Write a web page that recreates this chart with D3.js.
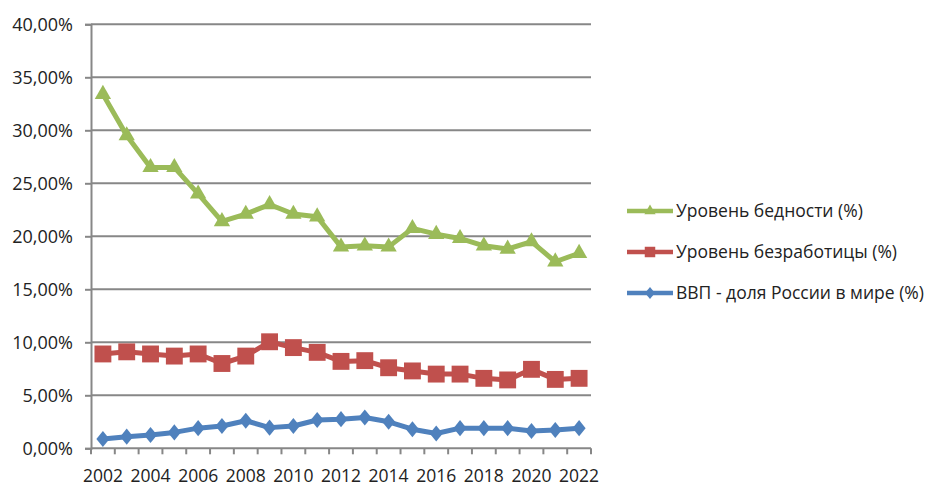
<!DOCTYPE html>
<html>
<head>
<meta charset="utf-8">
<script src="https://cdn.jsdelivr.net/npm/d3@7"></script>
<style>
  body { margin: 0; background: #fff; }
  text { font-family: "Open Sans", sans-serif; fill: #222; }
</style>
</head>
<body>
<div id="chart"></div>
<script>
const years = d3.range(2002, 2023);
const yTicks = [0, 5, 10, 15, 20, 25, 30, 35, 40];
const xLabels = [2002, 2004, 2006, 2008, 2010, 2012, 2014, 2016, 2018, 2020, 2022];

const poverty = [33.4, 29.5, 26.5, 26.5, 24.0, 21.4, 22.1, 23.0, 22.1, 21.85, 19.0,
                 19.1, 19.0, 20.75, 20.2, 19.8, 19.1, 18.8, 19.5, 17.6, 18.4];
const unemployment = [8.9, 9.1, 8.9, 8.7, 8.9, 8.0, 8.7, 10.05, 9.5, 9.05, 8.2,
                      8.27, 7.6, 7.3, 7.0, 7.0, 6.6, 6.45, 7.45, 6.5, 6.6];
const gdpShare = [0.88, 1.1, 1.25, 1.5, 1.9, 2.1, 2.6, 1.95, 2.1, 2.67, 2.75,
                  2.9, 2.5, 1.8, 1.4, 1.9, 1.9, 1.9, 1.63, 1.73, 1.9];

// flatter diamond like the Excel marker (size = width * height / 2)
const excelDiamond = {
  draw(ctx, size) {
    const h = Math.sqrt(size * 2 * 1.23) / 2, w = h / 1.23;
    ctx.moveTo(0, -h); ctx.lineTo(w, 0); ctx.lineTo(0, h); ctx.lineTo(-w, 0); ctx.closePath();
  }
};

const series = [
  { name: "Уровень бедности (%)", values: poverty, color: "#9BBB59", shape: d3.symbolTriangle, size: 115, legendSize: 55 },
  { name: "Уровень безработицы (%)", values: unemployment, color: "#C0504D", shape: d3.symbolSquare, size: 285, legendSize: 110 },
  { name: "ВВП - доля России в мире (%)", values: gdpShare, color: "#4F81BD", shape: excelDiamond, size: 105, legendSize: 60 }
];

const W = 934, H = 486;
const plotL = 91, plotR = 591, plotT = 24.3, plotB = 448.3;

const svg = d3.select("#chart").append("svg")
  .attr("width", W).attr("height", H);

const x = d3.scaleBand().domain(years).range([plotL, plotR]);
const y = d3.scaleLinear().domain([0, 40]).range([plotB, plotT]);
const cx = d => x(d) + x.bandwidth() / 2;

// gridlines
svg.append("g").selectAll("line").data(yTicks.filter(t => t > 0)).join("line")
  .attr("x1", plotL).attr("x2", plotR)
  .attr("y1", d => y(d)).attr("y2", d => y(d))
  .attr("stroke", "#878787").attr("stroke-width", 2);

// y axis
const yAxis = svg.append("g").attr("transform", `translate(${plotL},0)`)
  .call(d3.axisLeft(y).tickValues(yTicks).tickSize(6).tickPadding(12)
    .tickFormat(d => d.toFixed(2).replace(".", ",") + "%"));
yAxis.select(".domain").attr("stroke", "#878787").attr("stroke-width", 2);
yAxis.selectAll(".tick line").attr("stroke", "#878787").attr("stroke-width", 2);
yAxis.selectAll("text").attr("font-size", "18px").attr("fill", "#222")
  .attr("font-family", "Open Sans");

// x axis line and tick marks between categories
svg.append("line").attr("x1", plotL).attr("x2", plotR)
  .attr("y1", plotB).attr("y2", plotB)
  .attr("stroke", "#878787").attr("stroke-width", 2);
svg.append("g").selectAll("line").data(years.concat([2023])).join("line")
  .attr("x1", d => d === 2023 ? plotR : x(d)).attr("x2", d => d === 2023 ? plotR : x(d))
  .attr("y1", plotB).attr("y2", plotB + 6)
  .attr("stroke", "#878787").attr("stroke-width", 2);
svg.append("g").selectAll("text").data(xLabels).join("text")
  .attr("x", d => cx(d)).attr("y", 482)
  .attr("text-anchor", "middle").attr("font-size", "17.5px")
  .text(d => d);

// lines and markers
const line = d3.line().x((d, i) => cx(years[i])).y(d => y(d));
series.forEach(s => {
  svg.append("path").datum(s.values)
    .attr("d", line).attr("fill", "none")
    .attr("stroke", s.color).attr("stroke-width", 5)
    .attr("stroke-linejoin", "round");
  svg.append("g").selectAll("path").data(s.values).join("path")
    .attr("d", d3.symbol().type(s.shape).size(s.size))
    .attr("transform", (d, i) => `translate(${cx(years[i])},${y(d)})`)
    .attr("fill", s.color);
});

// legend
const legend = svg.append("g");
series.forEach((s, i) => {
  const ly = 211 + i * 41;
  legend.append("line").attr("x1", 627).attr("x2", 673)
    .attr("y1", ly).attr("y2", ly)
    .attr("stroke", s.color).attr("stroke-width", 4.5);
  legend.append("path")
    .attr("d", d3.symbol().type(s.shape).size(s.legendSize))
    .attr("transform", `translate(650,${ly})`).attr("fill", s.color);
  legend.append("text").attr("x", 676).attr("y", ly + 6)
    .attr("font-size", "17.5px").text(s.name);
});
</script>
</body>
</html>
